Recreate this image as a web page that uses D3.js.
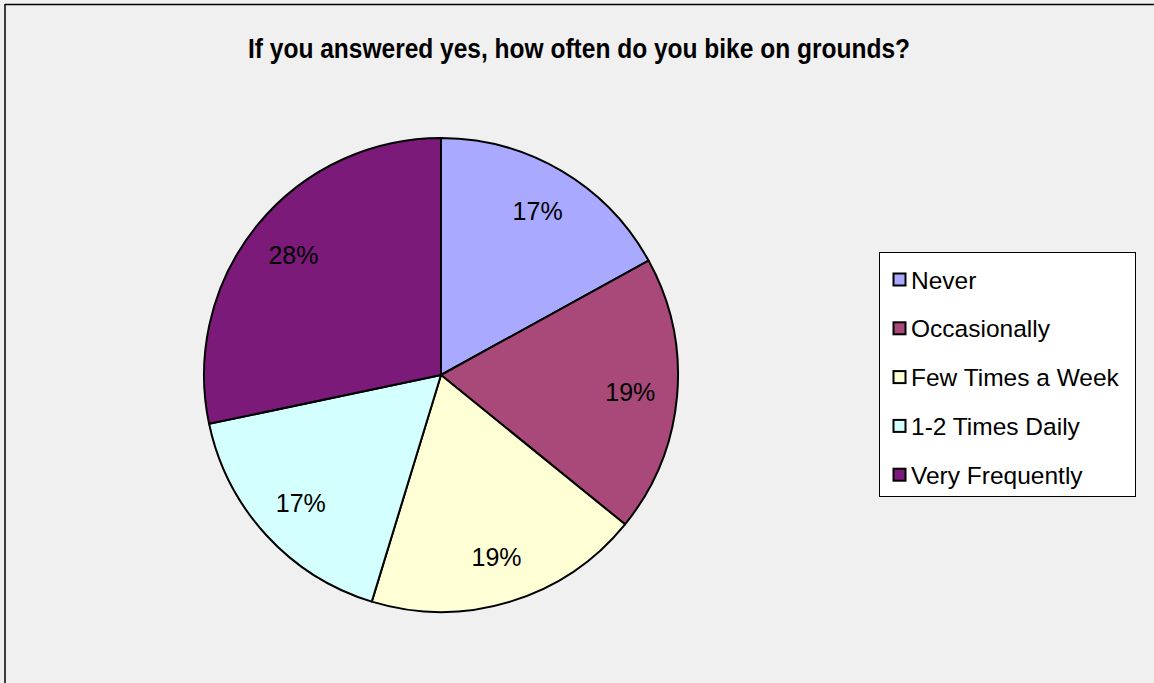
<!DOCTYPE html>
<html><head><meta charset="utf-8">
<script src="https://cdn.jsdelivr.net/npm/d3@7"></script>
<style>html,body{margin:0;padding:0;background:#f0f0f0;}svg{display:block;}</style>
</head><body>
<svg id="c" width="1154" height="683"></svg>
<script>
const title = "If you answered yes, how often do you bike on grounds?";
const categories = ["Never","Occasionally","Few Times a Week","1-2 Times Daily","Very Frequently"];
const counts = [9,10,10,9,15];
const colors = ["#a9a9ff","#a8497a","#ffffd6","#d4ffff","#7b1a79"];

const svg = d3.select("#c");
svg.append("rect").attr("x",0).attr("y",0).attr("width",1154).attr("height",683).attr("fill","#f0f0f0");
svg.append("line").attr("x1",5).attr("y1",4.5).attr("x2",1154).attr("y2",4.5).attr("stroke","#000").attr("stroke-width",1.5);
svg.append("line").attr("x1",5).attr("y1",4).attr("x2",5).attr("y2",683).attr("stroke","#000").attr("stroke-width",1.5);

svg.append("text").attr("x",579).attr("y",58).attr("text-anchor","middle")
  .attr("font-family","Liberation Sans, Arial, sans-serif").attr("font-weight","bold")
  .attr("font-size",27).attr("textLength",662).attr("lengthAdjust","spacingAndGlyphs")
  .attr("fill","#000").text(title);

const cx=441, cy=375, R=237;
const total = d3.sum(counts);
const pie = d3.pie().sort(null).value(d=>d)(counts);
const arc = d3.arc().innerRadius(0).outerRadius(R);
const labelArc = d3.arc().innerRadius(190).outerRadius(190);
const g = svg.append("g").attr("transform",`translate(${cx},${cy})`);
g.selectAll("path").data(pie).join("path")
  .attr("d",arc).attr("fill",(d,i)=>colors[i]).attr("stroke","#000").attr("stroke-width",2).attr("stroke-linejoin","round");
g.selectAll("text").data(pie).join("text")
  .attr("transform",d=>`translate(${labelArc.centroid(d)})`)
  .attr("text-anchor","middle").attr("dy","0.36em")
  .attr("font-family","Liberation Sans, Arial, sans-serif").attr("font-size",25).attr("fill","#000")
  .text(d=>Math.round(d.value/total*100)+"%");

const lx=879.5, ly=252.5, lw=256, lh=244;
svg.append("rect").attr("x",lx).attr("y",ly).attr("width",lw).attr("height",lh).attr("fill","#fff").attr("stroke","#000").attr("stroke-width",1);
const lg = svg.append("g");
categories.forEach((c,i)=>{
  const yc = 280 + i*48.8;
  lg.append("rect").attr("x",893.5).attr("y",yc-6.5).attr("width",12).attr("height",12)
    .attr("fill",colors[i]).attr("stroke","#000").attr("stroke-width",2);
  lg.append("text").attr("x",911).attr("y",yc+8.5).attr("font-family","Liberation Sans, Arial, sans-serif")
    .attr("font-size",24.5).attr("fill","#000").text(c);
});
</script>
</body></html>
